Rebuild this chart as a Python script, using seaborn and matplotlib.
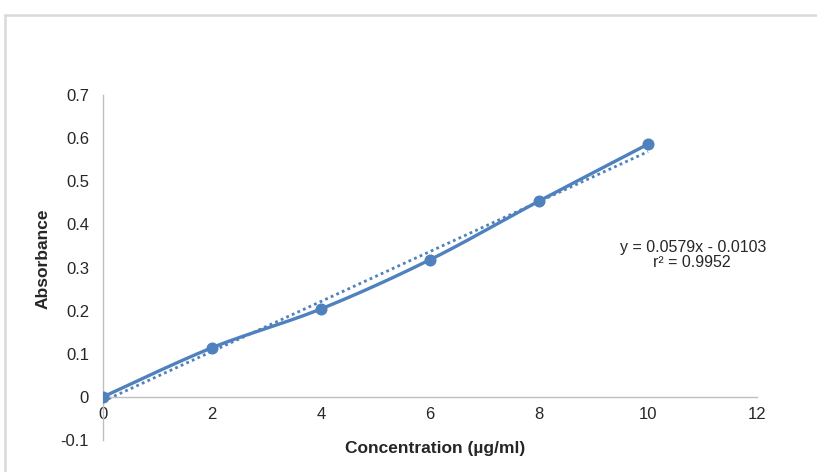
import numpy as np
import pandas as pd
import matplotlib
matplotlib.use("Agg")
import matplotlib.pyplot as plt
from matplotlib.lines import Line2D
import seaborn as sns

# Calibration data
concentration = [0, 2, 4, 6, 8, 10]
absorbance = [0.0, 0.114, 0.204, 0.318, 0.454, 0.586]

# Linear trendline parameters
slope = 0.0579
intercept = -0.0103
r_squared = 0.9952

x_ticks = [0, 2, 4, 6, 8, 10, 12]
y_ticks = [-0.1, 0.0, 0.1, 0.2, 0.3, 0.4, 0.5, 0.6, 0.7]
y_tick_labels = ["-0.1", "0", "0.1", "0.2", "0.3", "0.4", "0.5", "0.6", "0.7"]

BLUE = "#4F81BD"
AXIS_GREY = "#BFBFBF"
TEXT = "#262626"
FONT = ["Liberation Sans", "DejaVu Sans"]

sns.set_theme(style="white")
plt.rcParams["font.family"] = FONT

df = pd.DataFrame({"x": concentration, "y": absorbance})


def smooth_curve(xs, ys, n=40):
    """Catmull-Rom style Bezier smoothing through the given points."""
    pts = np.column_stack([xs, ys]).astype(float)
    padded = np.vstack([pts[0], pts, pts[-1]])
    out = []
    t = np.linspace(0, 1, n)[:, None]
    for i in range(1, len(padded) - 2):
        p0, p1, p2, p3 = padded[i - 1], padded[i], padded[i + 1], padded[i + 2]
        c1 = p1 + (p2 - p0) / 6.0
        c2 = p2 - (p3 - p1) / 6.0
        seg = ((1 - t) ** 3) * p1 + 3 * ((1 - t) ** 2) * t * c1 + 3 * (1 - t) * t ** 2 * c2 + t ** 3 * p2
        out.append(seg if i == 1 else seg[1:])
    curve = np.vstack(out)
    return curve[:, 0], curve[:, 1]


W, H = 817, 472
fig = plt.figure(figsize=(W / 100, H / 100), dpi=100)
fig.patch.set_facecolor("white")

left, right, top, bottom = 103, 757, 95, 440
ax = fig.add_axes([left / W, 1 - bottom / H, (right - left) / W, (bottom - top) / H])
ax.set_facecolor("white")

# Trendline (dotted)
tx = np.array([0.0, 10.0])
ax.plot(tx, slope * tx + intercept, linestyle=(0, (1, 1.2)), color=BLUE, linewidth=2.0, zorder=2)

# Smoothed line through the measurements
sx, sy = smooth_curve(df["x"].values, df["y"].values)
ax.plot(sx, sy, color=BLUE, linewidth=2.4, solid_capstyle="round", zorder=3)

# Markers
sns.scatterplot(data=df, x="x", y="y", ax=ax, color=BLUE, s=75, edgecolor=BLUE, linewidth=0,
                zorder=4, legend=False)

ax.set_xlim(0, 12)
ax.set_ylim(-0.1, 0.7)
ax.set_xticks(x_ticks)
ax.set_xticklabels([str(v) for v in x_ticks])
ax.set_yticks(y_ticks)
ax.set_yticklabels(y_tick_labels)

for s in ["top", "right"]:
    ax.spines[s].set_visible(False)
ax.spines["bottom"].set_position(("data", 0))
for s in ["bottom", "left"]:
    ax.spines[s].set_color(AXIS_GREY)
    ax.spines[s].set_linewidth(1.0)

ax.tick_params(axis="both", length=0, labelsize=12, colors=TEXT)
ax.tick_params(axis="y", pad=10)
ax.tick_params(axis="x", pad=7)
ax.set_xlabel("")
ax.set_ylabel("")

fig.text(435 / W, 1 - 448 / H, "Concentration (µg/ml)", ha="center", va="center",
         fontsize=12.5, fontweight="bold", color=TEXT)
fig.text(43 / W, 1 - 259 / H, "Absorbance", ha="center", va="center", rotation=90,
         fontsize=12.5, fontweight="bold", color=TEXT)

# Trendline equation
ax.text(10.83, 0.346, f"y = {slope}x - {abs(intercept)}", ha="center", va="center",
        fontsize=11.5, color=TEXT)
ax.text(10.80, 0.312, f"r² = {r_squared}", ha="center", va="center",
        fontsize=11.5, color=TEXT)

# Chart frame
fig.add_artist(Line2D([5 / W, 1.0], [1 - 15 / H, 1 - 15 / H], color="#D9D9D9", linewidth=1.8,
                      transform=fig.transFigure))
fig.add_artist(Line2D([5 / W, 5 / W], [0.0, 1 - 15 / H], color="#D9D9D9", linewidth=1.8,
                      transform=fig.transFigure))

fig.savefig("out.png", dpi=100, facecolor="white")
